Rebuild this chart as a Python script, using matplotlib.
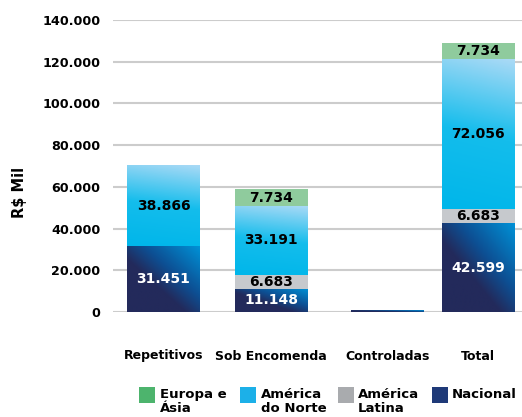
import numpy as np
import matplotlib
matplotlib.use("Agg")
import matplotlib.pyplot as plt
from matplotlib.colors import LinearSegmentedColormap
from matplotlib.patches import Rectangle

plt.rcParams['font.family'] = ['DejaVu Sans']

categories = ["Repetitivos", "Sob Encomenda", "Controladas", "Total"]
series_names = ["Nacional", "América Latina", "América do Norte", "Europa e Ásia"]
nacional = [31451, 11148, 900, 42599]
america_latina = [0, 6683, 0, 6683]
america_norte = [38866, 33191, 0, 72056]
europa_asia = [300, 7734, 0, 7734]
label_nacional = ["31.451", "11.148", "", "42.599"]
label_latina = ["", "6.683", "", "6.683"]
label_norte = ["38.866", "33.191", "", "72.056"]
label_europa = ["", "7.734", "", "7.734"]
yticks = [0, 20000, 40000, 60000, 80000, 100000, 120000, 140000]
ytick_labels = ["0", "20.000", "40.000", "60.000", "80.000", "100.000", "120.000", "140.000"]
legend_labels = ["Europa e\nÁsia", "América\ndo Norte", "América\nLatina", "Nacional"]

xpos = np.array([0.0, 1.0, 2.084, 2.926])
width = 0.679

fig = plt.figure(figsize=(5.22, 4.17), dpi=100)
ax = fig.add_axes([113/522, 1-312/417, 1-113/522, (312-20)/417])

cmap_nac = LinearSegmentedColormap.from_list(
    "nac", [(0, "#232a5b"), (0.4, "#232a5b"), (0.62, "#0d4f93"), (1.0, "#0091d6")])
cmap_nor = LinearSegmentedColormap.from_list(
    "nor", [(0, "#00b6ea"), (0.5, "#14bdec"), (1.0, "#abdaf6")])

def gradient_fill(rects, cmap, mode):
    for r in rects:
        x, y = r.get_x(), r.get_y()
        w, h = r.get_width(), r.get_height()
        if h <= 0:
            continue
        n = 64
        u = np.linspace(0, 1, n)[None, :]
        v = np.linspace(0, 1, n)[:, None]
        if mode == "diag":
            t = np.clip((u + v) / 2.0, 0, 1)
        else:
            t = np.clip(v * 0.9 + u * 0.1, 0, 1)
        im = ax.imshow(t, cmap=cmap, extent=[x, x + w, y, y + h], origin="lower",
                       aspect="auto", vmin=0, vmax=1, zorder=3, interpolation="bilinear")
        im.set_clip_path(r)

b1 = ax.bar(xpos, nacional, width, color="#1f3a78", zorder=2, linewidth=0)
bottom2 = np.array(nacional)
b2 = ax.bar(xpos, america_latina, width, bottom=bottom2, color="#c6c9cd", zorder=3, linewidth=0)
bottom3 = bottom2 + np.array(america_latina)
b3 = ax.bar(xpos, america_norte, width, bottom=bottom3, color="#00b6ea", zorder=2, linewidth=0)
bottom4 = bottom3 + np.array(america_norte)
b4 = ax.bar(xpos, europa_asia, width, bottom=bottom4, color="#8fcb9d", zorder=3, linewidth=0)

gradient_fill(b1, cmap_nac, "diag")
gradient_fill(b3, cmap_nor, "vert")

def add_labels(rects, labels, color):
    for r, lab in zip(rects, labels):
        if lab:
            ax.text(r.get_x() + r.get_width()/2, r.get_y() + r.get_height()/2, lab,
                    ha="center", va="center", color=color, fontsize=10,
                    fontweight="bold", zorder=5)

add_labels(b1, label_nacional, "white")
add_labels(b2, label_latina, "black")
add_labels(b3, label_norte, "black")
add_labels(b4, label_europa, "black")

ax.set_xlim(-0.47, 3.335)
ax.set_ylim(0, 140000)
ax.set_yticks(yticks)
ax.set_yticklabels(ytick_labels, fontsize=9.2, fontweight="bold")
ax.set_xticks(xpos)
ax.set_xticklabels(categories, fontsize=9, fontweight="bold")
ax.tick_params(axis="y", length=0, pad=9)
ax.tick_params(axis="x", length=0, pad=27)
ax.grid(axis="y", color="#cccccc", linewidth=1.5, zorder=0)
ax.set_axisbelow(True)
for s in ax.spines.values():
    s.set_visible(False)
ax.set_ylabel("R$ Mil", fontsize=10.5, fontweight="bold")
ax.yaxis.set_label_coords(-0.21, 0.41)

legend_colors = ["#4db46d", "#1cb0e8", "#a9abae", "#1f3a78"]
sq_x = [139, 240, 338, 432]
tx_x = [160, 261, 358, 452]
for lab, c, sx, tx in zip(legend_labels, legend_colors, sq_x, tx_x):
    fig.patches.append(Rectangle((sx/522, 1-403/417), 16/522, 16/417, transform=fig.transFigure,
                                 facecolor=c, edgecolor="none", figure=fig))
    fig.text(tx/522, 1-388/417, lab, ha="left", va="top", fontsize=9.5, fontweight="bold",
             linespacing=1.05)

fig.savefig("out.png", dpi=100)
